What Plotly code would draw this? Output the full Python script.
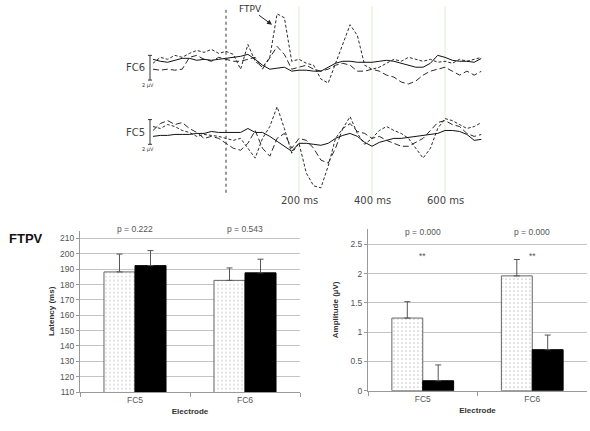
import plotly.graph_objects as go

# ---------------- data ----------------
time_ms = list(range(-200, 701, 20))

fc6_solid = [0.4, 0.24, 0.16, 0.32, 0.48, 0.48, 0.32, 0.4, 0.32, 0.4,
             0.48, 0.56, 0.64, 0.8, 0.4, -0.08, -0.4, -0.32, -0.24, -0.56,
             -0.48, -0.48, -0.56, -0.56, -0.24, 0.08, 0.24, 0.24, 0.16, 0.16,
             0.16, 0.24, 0.32, 0.24, 0.08, -0.08, -0.24, -0.24, 0.08, 0.72,
             0.56, 0.32, 0.24, 0.24, 0.16, 0.48]
fc6_dash = [0.08, 0.56, 0.4, 0.72, 0.56, 0.88, 1.12, 0.96, 1.2, 0.88,
            1.04, 0.8, -0.4, 1.6, 0.24, -0.24, 0.56, 4.08, 3.76, 0.24,
            0.4, 0.08, -0.08, -1.2, -1.52, 0.08, 1.6, 3.2, 2.32, -0.08,
            -0.4, -0.24, 0.08, 0.4, 0.24, 0.56, 0.4, 0.24, 0.4, 0.16,
            0.24, 0.08, 0.4, 0.24, 0.4, 0.56]
fc6_longdash = [-0.4, -0.48, -0.4, -0.48, -0.4, 0.56, 0.72, 0.4, 0.24, 0.56,
                0.4, 0.24, 0.24, 0.4, 0.56, -0.4, 0.56, 1.44, 0.8, -0.4,
                -0.24, -0.08, -0.4, -0.56, -0.4, -0.08, 0.08, -0.08, -0.56, -0.56,
                -0.4, -0.56, -0.88, -1.04, -1.44, -1.6, -1.36, -0.88, -0.56, -0.4,
                -0.24, -0.56, -0.88, -0.56, -0.88, -0.56]

fc5_solid = [-0.24, -0.16, -0.16, -0.08, -0.08, -0.08, 0, 0, 0.16, 0.08,
             0.08, 0.08, 0.08, 0.4, 0.08, 0.08, -0.24, -0.64, -1.04, -1.44,
             -0.8, -0.8, -0.88, -0.96, -0.8, -0.4, -0.16, 0, -0.24, -0.72,
             -1.04, -0.72, -0.56, -0.4, -0.4, -0.32, -0.24, -0.16, -0.08, 0,
             0.24, 0.24, 0.16, -0.08, -0.56, -0.48]
fc5_dash = [0.56, 0.4, 0.72, 0.56, 0.24, 0.08, -0.24, -0.08, -0.16, -0.24,
            -0.4, -0.56, -0.4, -1.2, -2.0, -0.4, 0.56, 2.16, 0.4, -1.6,
            -0.8, -3.2, -4.24, -4.4, -2.64, -0.4, 0.4, 1.36, 0, -0.88,
            -0.4, 0.24, 0.56, 0.24, 0, -0.4, -1.2, -2.0, -1.2, 0.4,
            1.2, 1.04, 0.72, 0.4, 0.56, 0.88]
fc5_longdash = [0.24, 0.8, 1.04, 0.72, 0.88, 0.4, 0.08, -0.4, -0.24, -0.4,
                -0.8, -1.2, -1.36, -0.8, 0.24, -1.2, -1.84, -0.4, 0, -1.2,
                -0.4, -0.56, -1.2, -2.16, -2.4, -1.2, 0.4, 0.8, 0.16, 0,
                -0.4, -0.24, -0.56, -0.8, -1.04, -1.04, -0.72, -0.4, 0.24, 0.88,
                1.04, 0.72, 0.56, 0, -0.24, -0.08]

time_markers = [200, 400, 600]
marker_labels = ["200 ms", "400 ms", "600 ms"]
onset_ms = 0
scale_bar_uv = 2

electrodes = ["FC5", "FC6"]
latency_dotted = [188.2, 182.7]
latency_dotted_err = [11.6, 8.1]
latency_black = [192.3, 187.6]
latency_black_err = [9.8, 8.9]
latency_p = ["p = 0.222", "p = 0.543"]

amp_dotted = [1.24, 1.96]
amp_dotted_err = [0.28, 0.28]
amp_black = [0.17, 0.70]
amp_black_err = [0.27, 0.25]
amp_p = ["p = 0.000", "p = 0.000"]
amp_sig = ["**", "**"]

# ---------------- layout helpers ----------------
W, H = 590, 431


def px(p):
    return p / W


def py(p):
    return 1 - p / H


fig = go.Figure()

erp_sets = [
    ("y", fc6_solid, fc6_dash, fc6_longdash),
    ("y2", fc5_solid, fc5_dash, fc5_longdash),
]
for yax, solid, dash, ldash in erp_sets:
    fig.add_trace(go.Scatter(x=time_ms, y=ldash, mode="lines", xaxis="x", yaxis=yax,
                             line=dict(color="#2a2a2a", width=1, dash="6px,3px"),
                             showlegend=False, hoverinfo="skip"))
    fig.add_trace(go.Scatter(x=time_ms, y=dash, mode="lines", xaxis="x", yaxis=yax,
                             line=dict(color="#2a2a2a", width=1, dash="3px,2px"),
                             showlegend=False, hoverinfo="skip"))
    fig.add_trace(go.Scatter(x=time_ms, y=solid, mode="lines", xaxis="x", yaxis=yax,
                             line=dict(color="#111", width=1),
                             showlegend=False, hoverinfo="skip"))

err_style = dict(type="data", symmetric=False, color="#555", thickness=1, width=3)

# Latency bars
fig.add_trace(go.Bar(x=electrodes, y=latency_dotted, xaxis="x3", yaxis="y3",
                     marker=dict(color="white", line=dict(color="#666", width=1),
                                 pattern=dict(shape=".", fgcolor="#999", bgcolor="white",
                                              size=4, solidity=0.15)),
                     error_y=dict(array=latency_dotted_err, arrayminus=[0, 0], **err_style),
                     showlegend=False))
fig.add_trace(go.Bar(x=electrodes, y=latency_black, xaxis="x3", yaxis="y3",
                     marker=dict(color="black", line=dict(color="black", width=1)),
                     error_y=dict(array=latency_black_err, arrayminus=[0, 0], **err_style),
                     showlegend=False))
# Amplitude bars
fig.add_trace(go.Bar(x=electrodes, y=amp_dotted, xaxis="x4", yaxis="y4",
                     marker=dict(color="white", line=dict(color="#666", width=1),
                                 pattern=dict(shape=".", fgcolor="#999", bgcolor="white",
                                              size=4, solidity=0.15)),
                     error_y=dict(array=amp_dotted_err, arrayminus=[0, 0], **err_style),
                     showlegend=False))
fig.add_trace(go.Bar(x=electrodes, y=amp_black, xaxis="x4", yaxis="y4",
                     marker=dict(color="black", line=dict(color="black", width=1)),
                     error_y=dict(array=amp_black_err, arrayminus=[0, 0], **err_style),
                     showlegend=False))

tick_font = dict(family="Liberation Sans, Arial", size=8.5, color="#555")
title_font = dict(family="Liberation Sans, Arial", size=8, color="#333")

bar_x = dict(type="category", showline=True, linecolor="#999", linewidth=1,
             ticks="outside", ticklen=4, tickcolor="#999", tickson="boundaries",
             tickfont=tick_font, showgrid=False)
bar_y = dict(showline=True, linecolor="#999", linewidth=1, ticks="outside",
             ticklen=3, tickcolor="#999", tickfont=tick_font, showgrid=True,
             gridcolor="#c4c4c4", gridwidth=1, zeroline=False)

fig.update_layout(
    width=W, height=H,
    margin=dict(l=0, r=0, t=0, b=0),
    paper_bgcolor="white", plot_bgcolor="white",
    barmode="group", bargap=0.436, bargroupgap=0,
    xaxis=dict(domain=[px(153), px(481.5)], range=[-200, 700], visible=False, anchor="y"),
    yaxis=dict(domain=[py(100), py(0)], range=[-2.8, 5.2], visible=False, anchor="x"),
    yaxis2=dict(domain=[py(200), py(100)], range=[-5.2, 2.8], visible=False, anchor="x"),
    xaxis3=dict(domain=[px(80), px(300)], anchor="y3",
                title=dict(text="<b>Electrode</b>", font=title_font, standoff=4), **bar_x),
    yaxis3=dict(domain=[py(396.7), py(233.3)], range=[110, 215.1], dtick=10, anchor="x3",
                title=dict(text="<b>Latency (ms)</b>", font=title_font, standoff=4), **bar_y),
    xaxis4=dict(domain=[px(368), px(587)], anchor="y4",
                title=dict(text="<b>Electrode</b>", font=title_font, standoff=4), **bar_x),
    yaxis4=dict(domain=[py(395.3), py(231.7)], range=[0, 2.76], dtick=0.5, anchor="x4",
                title=dict(text="<b>Amplitude (\u00b5V)</b>", font=title_font, standoff=10), **bar_y),
)

shapes = []
# onset dotted line
shapes.append(dict(type="line", xref="x", yref="paper", x0=onset_ms, x1=onset_ms,
                   y0=py(195), y1=py(10), line=dict(color="#333", width=1, dash="dot")))
for t in time_markers:
    shapes.append(dict(type="line", xref="x", yref="paper", x0=t, x1=t,
                       y0=py(197), y1=py(6), line=dict(color="#dcebd4", width=1),
                       layer="below"))
# scale bars
for yref, top in (("y", 0.72), ("y2", 1.12)):
    shapes.append(dict(type="line", xref="paper", yref=yref, x0=px(150), x1=px(150),
                       y0=top, y1=top - scale_bar_uv, line=dict(color="#333", width=1)))
    for yy in (top, top - scale_bar_uv):
        shapes.append(dict(type="line", xref="paper", yref=yref, x0=px(148), x1=px(152),
                           y0=yy, y1=yy, line=dict(color="#333", width=1)))
fig.update_layout(shapes=shapes)

ann = []
erp_font = dict(family="DejaVu Sans, Open Sans", size=10, color="#444")
for t, lab in zip(time_markers, marker_labels):
    ann.append(dict(x=t, y=py(203), xref="x", yref="paper", text=lab, showarrow=False,
                    font=erp_font, xanchor="center", yanchor="middle"))
ann.append(dict(x=px(147), y=py(68), xref="paper", yref="paper", text="FC6",
                showarrow=False, font=erp_font, xanchor="right", yanchor="middle"))
ann.append(dict(x=px(147), y=py(134), xref="paper", yref="paper", text="FC5",
                showarrow=False, font=erp_font, xanchor="right", yanchor="middle"))
for yv in (86, 151):
    ann.append(dict(x=px(148), y=py(yv), xref="paper", yref="paper", text="2 \u00b5V",
                    showarrow=False, font=dict(family="DejaVu Sans", size=5, color="#333"),
                    xanchor="center", yanchor="middle"))
ann.append(dict(x=px(272), y=py(25), xref="paper", yref="paper", text="FTPV",
                showarrow=True, ax=-22, ay=-16, arrowhead=2, arrowsize=1, arrowwidth=1,
                arrowcolor="#222", standoff=0, font=dict(family="DejaVu Sans", size=9, color="#333")))
ann.append(dict(x=px(7), y=py(241), xref="paper", yref="paper", text="<b>FTPV</b>",
                showarrow=False, xanchor="left", yanchor="middle",
                font=dict(family="Liberation Sans, Arial", size=13, color="#111")))
for i, txt in enumerate(latency_p):
    ann.append(dict(x=i, y=py(232), xref="x3", yref="paper", text=txt, showarrow=False,
                    font=tick_font, xanchor="center", yanchor="middle"))
for i, txt in enumerate(amp_p):
    ann.append(dict(x=i, y=py(235), xref="x4", yref="paper", text=txt, showarrow=False,
                    font=tick_font, xanchor="center", yanchor="middle"))
for i, txt in enumerate(amp_sig):
    ann.append(dict(x=i, y=py(259), xref="x4", yref="paper", text=txt, showarrow=False,
                    font=tick_font, xanchor="center", yanchor="middle"))
fig.update_layout(annotations=ann)

fig.write_html("out.html")
